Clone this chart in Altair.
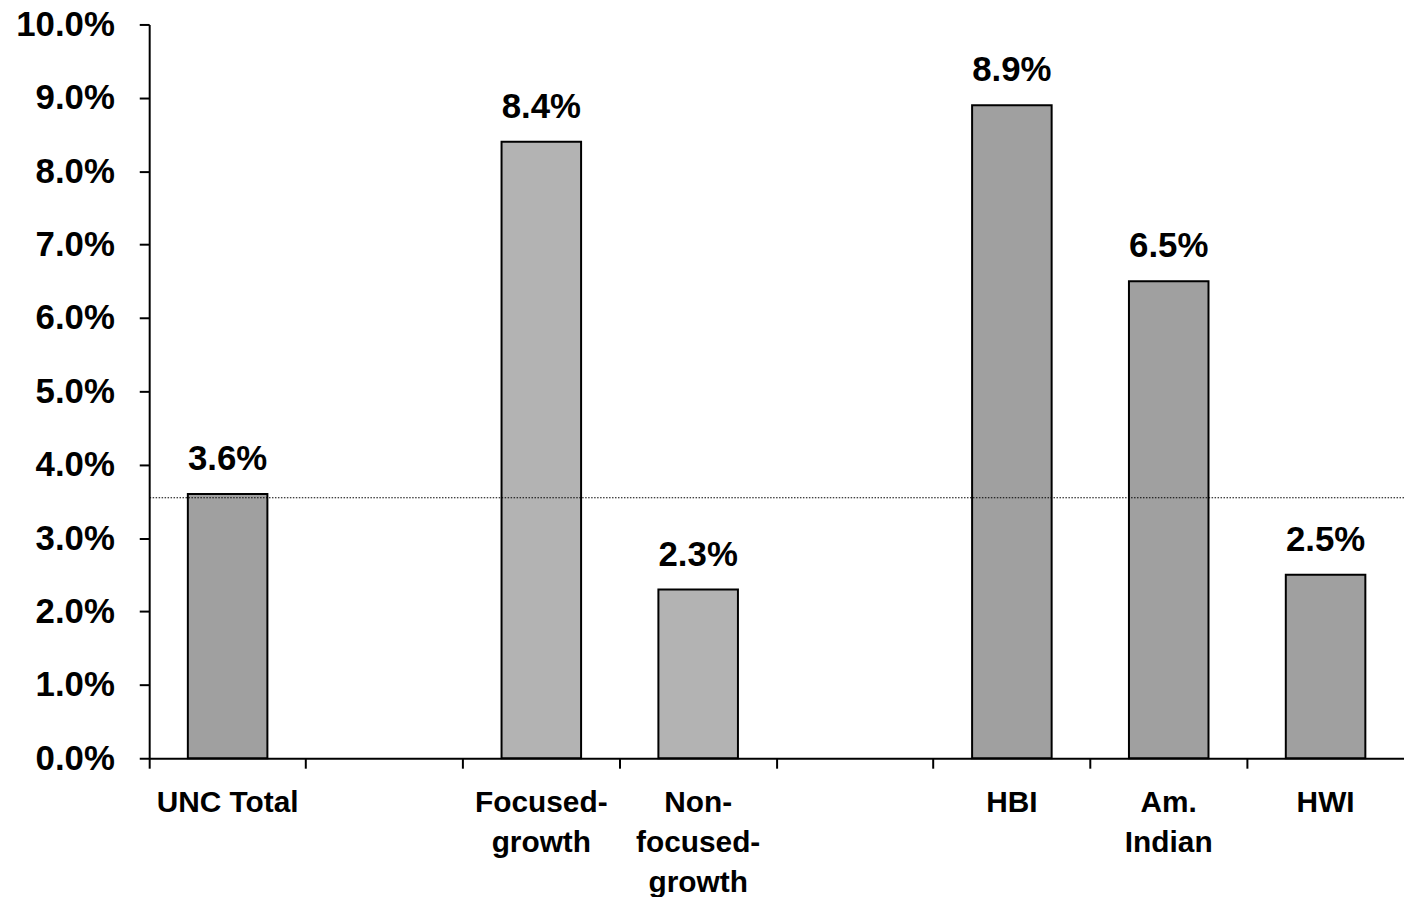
import altair as alt
import pandas as pd

categories = ["UNC Total", "gap1", "Focused-|growth", "Non-|focused-|growth",
              "gap2", "HBI", "Am.|Indian", "HWI"]
bar_categories = ["UNC Total", "Focused-|growth", "Non-|focused-|growth",
                  "HBI", "Am.|Indian", "HWI"]
bar_values = [3.6, 8.4, 2.3, 8.9, 6.5, 2.5]
bar_labels = ["3.6%", "8.4%", "2.3%", "8.9%", "6.5%", "2.5%"]
bar_groups = ["dark", "light", "light", "dark", "dark", "dark"]
reference_value = [3.55]
y_ticks = [0, 1, 2, 3, 4, 5, 6, 7, 8, 9, 10]

bars_df = pd.DataFrame({"cat": bar_categories, "val": bar_values,
                        "lab": bar_labels, "grp": bar_groups})
ref_df = pd.DataFrame({"ref": reference_value})

FONT = "Liberation Sans"
W = 1262

xscale = alt.Scale(domain=categories, paddingInner=0, paddingOuter=0)
yscale = alt.Scale(domain=[0, 10])

x_axis = alt.Axis(
    title=None, labelAngle=0, bandPosition=0,
    labelExpr="indexof(datum.value, 'gap') == 0 ? '' : split(datum.value, '|')",
    labelFont=FONT, labelFontSize=30, labelFontWeight="bold", labelColor="black",
    labelLineHeight=40, labelPadding=20, labelBaseline="top",
    tickSize=10, tickWidth=2, tickColor="black",
    domainColor="black", domainWidth=2, labelLimit=300,
)
y_axis = alt.Axis(
    title=None, values=y_ticks, grid=False,
    labelExpr="format(datum.value, '.1f') + '%'",
    labelFont=FONT, labelFontSize=35, labelFontWeight="bold", labelColor="black",
    labelPadding=25, tickSize=10, tickWidth=2, tickColor="black",
    domainColor="black", domainWidth=2,
)

bars = alt.Chart(bars_df).mark_bar(stroke="black", strokeWidth=2, size=80).encode(
    x=alt.X("cat:N", scale=xscale, axis=x_axis),
    y=alt.Y("val:Q", scale=yscale, axis=y_axis),
    fill=alt.Fill("grp:N", scale=alt.Scale(domain=["dark", "light"],
                                           range=["#a0a0a0", "#b3b3b3"]),
                  legend=None),
)

text = alt.Chart(bars_df).mark_text(font=FONT, fontSize=35, fontWeight="bold",
                                    color="black", baseline="alphabetic",
                                    dy=-24).encode(
    x=alt.X("cat:N", scale=xscale),
    y=alt.Y("val:Q", scale=yscale),
    text="lab:N",
)

rule = alt.Chart(ref_df).mark_rule(color="black", strokeWidth=1,
                                   strokeDash=[1.5, 1.5]).encode(
    y=alt.Y("ref:Q", scale=yscale),
)

chart = alt.layer(bars, rule, text).properties(
    width=W, height=738,
    autosize=alt.AutoSizeParams(type="none"),
    padding={"left": 142, "top": 14, "right": 0, "bottom": 137},
).configure_view(strokeWidth=0)

chart.save("out.html", embed_options={"renderer": "svg", "actions": False})
